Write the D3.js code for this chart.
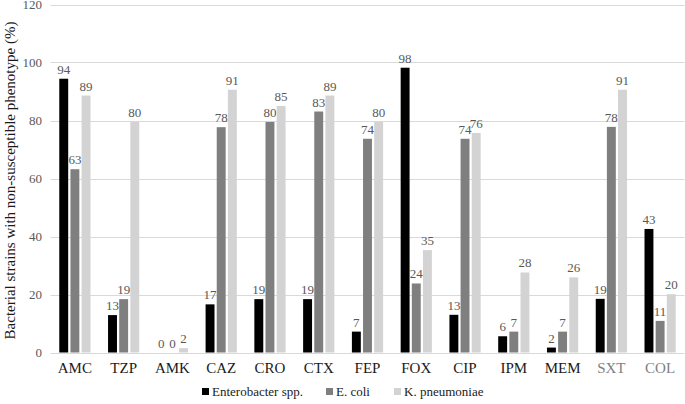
<!DOCTYPE html>
<html><head><meta charset="utf-8">
<script src="https://cdn.jsdelivr.net/npm/d3@7"></script>
<style>body{margin:0;background:#fff;} svg{display:block;} svg text{font-family:"Liberation Serif",Tinos,"Times New Roman",Times,serif;}</style>
</head><body>
<svg id="chart" width="685" height="404"></svg>
<script>
const categories = ["AMC","TZP","AMK","CAZ","CRO","CTX","FEP","FOX","CIP","IPM","MEM","SXT","COL"];
const seriesNames = ["Enterobacter spp.","E. coli","K. pneumoniae"];
const enterobacter = [94.4,12.9,0,16.6,18.4,18.4,7.2,98.2,13.0,5.6,1.7,18.5,42.6];
const ecoli = [63.2,18.4,0,77.7,79.5,83.1,73.7,23.8,73.7,7.2,7.2,77.8,10.9];
const kpneumoniae = [88.6,79.5,1.5,90.6,85.0,88.6,79.5,35.3,75.7,27.6,25.9,90.6,20.1];
const enterobacterLabels = [94,13,0,17,19,19,7,98,13,6,2,19,43];
const ecoliLabels = [63,19,0,78,80,83,74,24,74,7,7,78,11];
const kpneumoniaeLabels = [89,80,2,91,85,89,80,35,76,28,26,91,20];
const yTicks = [0,20,40,60,80,100,120];
const colors = ["#000000","#7f7f7f","#d3d3d3"];
const grayCats = ["SXT","COL"];

const values = [enterobacter, ecoli, kpneumoniae];
const labels = [enterobacterLabels, ecoliLabels, kpneumoniaeLabels];

const svg = d3.select("#chart");
const pLeft = 50.5, pRight = 684.5, pTop = 4.5, pBottom = 352.5;
const y = d3.scaleLinear().domain([0,120]).range([pBottom, pTop]);
const x0 = d3.scaleBand().domain(categories).range([pLeft, pRight]).paddingInner(0.36).paddingOuter(0.18);
const x1 = d3.scaleBand().domain(seriesNames).range([0, x0.bandwidth()]).paddingInner(0.2);
const FONT = '"Liberation Serif",Tinos,"Times New Roman",Times,serif';

// gridlines
svg.append("g").selectAll("line").data(yTicks).join("line")
  .attr("x1", pLeft).attr("x2", pRight)
  .attr("y1", d => Math.round(y(d)) + 0.5).attr("y2", d => Math.round(y(d)) + 0.5)
  .attr("stroke", "#d9d9d9").attr("stroke-width", 1);

// y tick labels
const yAxis = d3.axisLeft(y).tickValues(yTicks).tickSize(0).tickPadding(0);
const ya = svg.append("g").attr("transform", `translate(${42},0)`).call(yAxis)
  .attr("font-family", FONT).attr("font-size", 13);
ya.select(".domain").remove();
ya.selectAll("text").style("font-family", FONT).attr("fill", "#595959");

// x axis labels
const xAxis = d3.axisBottom(x0).tickSize(0).tickPadding(0);
const xa = svg.append("g").attr("transform", `translate(0,${pBottom + 10})`).call(xAxis)
  .attr("font-family", FONT).attr("font-size", 15);
xa.select(".domain").remove();
xa.selectAll("text").style("font-family", FONT)
  .attr("fill", d => grayCats.includes(d) ? "#7f7f7f" : "#1a1a1a");

// bars
const g = svg.append("g");
seriesNames.forEach((s, si) => {
  g.append("g").selectAll("rect").data(categories).join("rect")
    .attr("x", (c) => x0(c) + x1(s))
    .attr("width", x1.bandwidth())
    .attr("y", (c, i) => y(values[si][i]))
    .attr("height", (c, i) => y(0) - y(values[si][i]))
    .attr("fill", colors[si]);
  g.append("g").selectAll("text").data(categories).join("text")
    .attr("x", (c) => x0(c) + x1(s) + x1.bandwidth() / 2)
    .attr("y", (c, i) => y(values[si][i]) - 5)
    .attr("text-anchor", "middle")
    .style("font-family", FONT)
    .attr("font-size", 13).attr("fill", "#595959")
    .text((c, i) => labels[si][i]);
});

// y axis title
svg.append("text")
  .attr("transform", `translate(15,${(pTop + pBottom) / 2 + 2}) rotate(-90)`)
  .attr("text-anchor", "middle")
  .style("font-family", FONT)
  .attr("font-size", 15).attr("fill", "#1a1a1a")
  .text("Bacterial strains with non-susceptible phenotype (%)");

// legend
const legendItems = [
  {name: seriesNames[0], x: 202},
  {name: seriesNames[1], x: 326},
  {name: seriesNames[2], x: 394}
];
const lg = svg.append("g");
legendItems.forEach((it, i) => {
  lg.append("rect").attr("x", it.x).attr("y", 388).attr("width", 7).attr("height", 7).attr("fill", colors[i]);
  lg.append("text").attr("x", it.x + 10).attr("y", 396)
    .style("font-family", FONT)
    .attr("font-size", 13).attr("fill", "#1a1a1a").text(it.name);
});
</script>
</body></html>
